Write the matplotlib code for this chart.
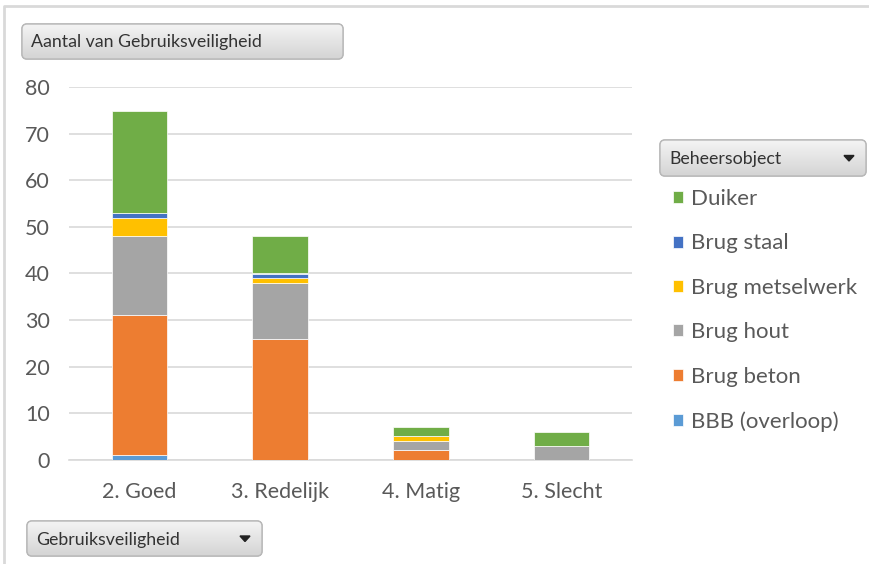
import matplotlib
matplotlib.use("Agg")
import matplotlib.pyplot as plt
import numpy as np
from matplotlib.patches import FancyBboxPatch
from matplotlib.colors import LinearSegmentedColormap

plt.rcParams['font.family'] = ['Lato', 'DejaVu Sans']

categories = ["2. Goed", "3. Redelijk", "4. Matig", "5. Slecht"]
series_names = ["BBB (overloop)", "Brug beton", "Brug hout", "Brug metselwerk", "Brug staal", "Duiker"]
bbb = [1, 0, 0, 0]
beton = [30, 26, 2, 0]
hout = [17, 12, 2, 3]
metselwerk = [4, 1, 1, 0]
staal = [1, 1, 0, 0]
duiker = [22, 8, 2, 3]
series_values = [bbb, beton, hout, metselwerk, staal, duiker]
colors = ["#5B9BD5", "#ED7D31", "#A5A5A5", "#FFC000", "#4472C4", "#70AD47"]
yticks = [0, 10, 20, 30, 40, 50, 60, 70, 80]

W, H = 870, 564
fig = plt.figure(figsize=(W / 100, H / 100), dpi=100)
fig.patch.set_facecolor("white")

ax = fig.add_axes([69.3 / W, 1 - 459.7 / H, (631.7 - 69.3) / W, (459.7 - 87.3) / H])
x = np.arange(len(categories))
bottom = np.zeros(len(categories))
handles = []
for name, vals, c in zip(series_names, series_values, colors):
    v = np.array(vals, dtype=float)
    b = ax.bar(x, v, 0.395, bottom=bottom, color=c, edgecolor="white", linewidth=0.5, label=name, zorder=3)
    handles.append(b)
    bottom += v

ax.set_xlim(-0.5, 3.5)
ax.set_ylim(0, 80)
ax.set_yticks(yticks)
ax.set_xticks(x)
ax.set_xticklabels(categories)
ax.tick_params(axis="both", length=0, colors="#595959", labelsize=15.5)
ax.tick_params(axis="y", pad=14)
ax.tick_params(axis="x", pad=16)
ax.grid(axis="y", color="#D9D9D9", linewidth=1.2, zorder=0)
for s in ["top", "right", "left"]:
    ax.spines[s].set_visible(False)
ax.spines["bottom"].set_color("#D9D9D9")
ax.spines["bottom"].set_linewidth(1.2)
ax.set_facecolor("none")

# Legend
leg = fig.legend(handles[::-1], series_names[::-1], loc="upper left",
                 bbox_to_anchor=(673 / W, 1 - 189 / H), frameon=False,
                 fontsize=16, labelspacing=1.10, handlelength=0.45, handleheight=0.45,
                 handletextpad=0.36, borderpad=0, borderaxespad=0)
for t in leg.get_texts():
    t.set_color("#595959")

# Overlay for frame and buttons
ov = fig.add_axes([0, 0, 1, 1], zorder=-1)
ov.set_xlim(0, W)
ov.set_ylim(H, 0)
ov.axis("off")
ov.plot([4, 4, W], [H, 6, 6], color="#D9D9D9", linewidth=2)

ov2 = fig.add_axes([0, 0, 1, 1], zorder=5)
ov2.set_xlim(0, W)
ov2.set_ylim(H, 0)
ov2.axis("off")
ov2.patch.set_alpha(0)

grad = np.linspace(0, 1, 64).reshape(-1, 1)
cmap = LinearSegmentedColormap.from_list("btn", ["#F4F4F4", "#D4D4D4"])

def button(x0, y0, x1, y1, text, arrow):
    p = FancyBboxPatch((x0, y0), x1 - x0, y1 - y0, boxstyle="round,pad=0,rounding_size=5",
                       facecolor="#E2E2E2", edgecolor="#B8B8B8", linewidth=1.0)
    ov2.add_patch(p)
    im = ov2.imshow(grad, extent=(x0, x1, y1, y0), cmap=cmap, aspect="auto", zorder=2)
    im.set_clip_path(p)
    p2 = FancyBboxPatch((x0, y0), x1 - x0, y1 - y0, boxstyle="round,pad=0,rounding_size=5",
                        facecolor="none", edgecolor="#B8B8B8", linewidth=1.0, zorder=3)
    ov2.add_patch(p2)
    ov2.text(x0 + 9, (y0 + y1) / 2 + 1, text, fontsize=12.8, color="#333333",
             va="center", ha="left", zorder=4)
    if arrow:
        cx, cy = x1 - 17, (y0 + y1) / 2
        ov2.fill([cx - 5, cx + 5, cx], [cy - 2.5, cy - 2.5, cy + 3], color="#222222", zorder=4)
    ov2.set_xlim(0, W)
    ov2.set_ylim(H, 0)

button(22, 24, 343, 59, "Aantal van Gebruiksveiligheid", False)
button(27, 521, 262, 556, "Gebruiksveiligheid", True)
button(660, 140, 866, 176, "Beheersobject", True)

fig.savefig("out.png", dpi=100)
